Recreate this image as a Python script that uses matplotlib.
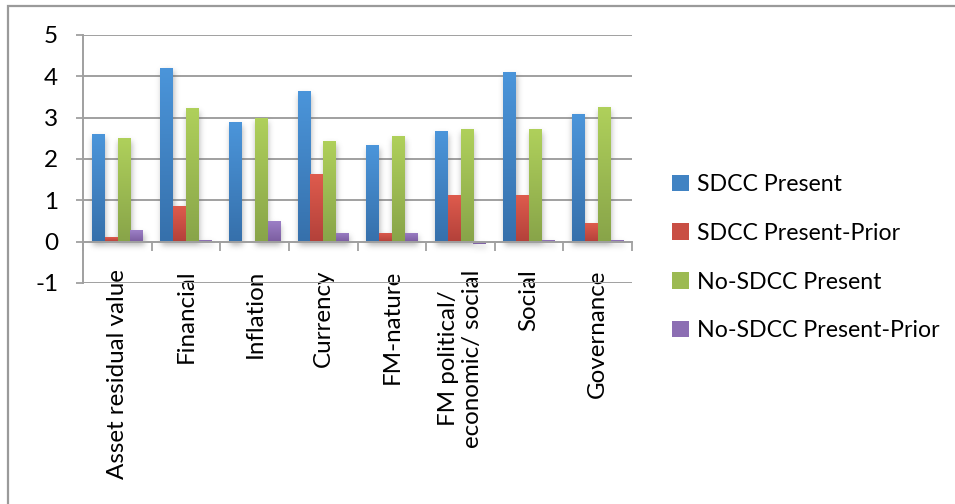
import numpy as np
import matplotlib
matplotlib.use("Agg")
import matplotlib.pyplot as plt
from matplotlib.colors import LinearSegmentedColormap, to_rgb
from matplotlib.patches import Patch, Rectangle

plt.rcParams['font.family'] = ['Lato', 'DejaVu Sans']
plt.rcParams['axes.unicode_minus'] = False

categories = ['Asset residual value', 'Financial', 'Inflation', 'Currency',
              'FM-nature', 'FM political/\neconomic/ social', 'Social', 'Governance']
series_names = ['SDCC Present', 'SDCC Present-Prior', 'No-SDCC Present', 'No-SDCC Present-Prior']
sdcc_present = [2.61, 4.21, 2.89, 3.64, 2.33, 2.67, 4.10, 3.10]
sdcc_prior = [0.12, 0.87, 0.0, 1.63, 0.22, 1.12, 1.12, 0.44]
nosdcc_present = [2.50, 3.24, 3.00, 2.43, 2.55, 2.72, 2.72, 3.25]
nosdcc_prior = [0.27, 0.05, 0.49, 0.22, 0.22, -0.05, 0.05, 0.05]
y_ticks = [-1, 0, 1, 2, 3, 4, 5]

# (top, bottom) colours of the vertical gradient for each series
grad_colors = [('#4b95da', '#3670ab'),
               ('#de5b4d', '#b3413a'),
               ('#afd05b', '#88a449'),
               ('#9c7fc6', '#7b5d9f')]

all_series = [sdcc_present, sdcc_prior, nosdcc_present, nosdcc_prior]

fig = plt.figure(figsize=(9.55, 5.04), dpi=100)
ax = fig.add_axes([0.0872, 0.4385, 0.5746, 0.4921])

# axis line at zero; set before ticks since it resets them
grid_c = '#a0a0a0'
for s in ['top', 'right']:
    ax.spines[s].set_visible(False)
ax.spines['bottom'].set_position(('data', 0))
ax.spines['bottom'].set_color(grid_c)
ax.spines['bottom'].set_linewidth(1.4)
ax.spines['left'].set_color(grid_c)
ax.spines['left'].set_linewidth(1.4)

n = len(categories)
idx = np.arange(n)
width = 0.1875
xlim = (-0.5, n - 0.5)
ylim = (-1, 5)

# soft drop shadow under the bars
nx, ny = 560, 250
gx = np.linspace(xlim[0], xlim[1], nx)
gy = np.linspace(ylim[0], ylim[1], ny)
mask = np.zeros((ny, nx))
px_y = (ylim[1] - ylim[0]) / 248.0
px_x = (xlim[1] - xlim[0]) / 549.0
for i, vals in enumerate(all_series):
    for c, v in zip(idx, vals):
        x0 = c + (i - 2) * width + 1 * px_x
        x1 = x0 + width
        lo, hi = min(0, v) - 4 * px_y, max(0, v) - 4 * px_y
        mask[np.ix_((gy >= lo) & (gy <= hi), (gx >= x0) & (gx <= x1))] = 1.0
k = np.exp(-0.5 * (np.arange(-9, 10) / 3.0) ** 2)
k /= k.sum()
blur = np.apply_along_axis(lambda r: np.convolve(r, k, mode='same'), 1, mask)
blur = np.apply_along_axis(lambda r: np.convolve(r, k, mode='same'), 0, blur)
shadow = np.zeros((ny, nx, 4))
shadow[..., :3] = 0.35
shadow[..., 3] = blur * 0.45
ax.imshow(shadow, extent=[xlim[0], xlim[1], ylim[0], ylim[1]], origin='lower',
          aspect='auto', zorder=1.5, interpolation='bilinear')

handles = []
for i, (vals, name, (ctop, cbot)) in enumerate(zip(all_series, series_names, grad_colors)):
    pos = idx + (i - 1.5) * width
    mid = tuple((np.array(to_rgb(ctop)) + np.array(to_rgb(cbot))) / 2)
    bars = ax.bar(pos, vals, width, color=mid, zorder=2, linewidth=0)
    cmap = LinearSegmentedColormap.from_list(name, [cbot, ctop])
    grad = np.linspace(0, 1, 64).reshape(-1, 1)
    for b in bars:
        x0, y0 = b.get_x(), b.get_y()
        h = b.get_height()
        if h == 0:
            continue
        im = ax.imshow(grad, extent=[x0, x0 + width, min(y0, y0 + h), max(y0, y0 + h)],
                       origin='lower', cmap=cmap, aspect='auto', zorder=2.1,
                       interpolation='bilinear')
        im.set_clip_path(b)
    handles.append(Patch(facecolor=mid, edgecolor='none', label=name))

ax.set_xlim(*xlim)
ax.set_ylim(*ylim)

ax.set_yticks(y_ticks)
ax.yaxis.grid(True, color=grid_c, linewidth=1.4, zorder=0)
ax.set_axisbelow(True)
ax.tick_params(axis='y', direction='out', length=5, width=1.3, color=grid_c,
               pad=13, labelsize=17.5, labelcolor='black')

ax.set_xticks(idx)
ax.set_xticklabels(categories, rotation=90, fontsize=17.4, va='top', ha='center')
ax.set_xticks(np.arange(-0.5, n, 1.0), minor=True)
ax.tick_params(axis='x', which='major', length=0, pad=20)
ax.tick_params(axis='x', which='minor', direction='out', length=6.5, width=1.3, color=grid_c)

fig.legend(handles=handles, loc='upper left', bbox_to_anchor=(0.704, 0.655),
           frameon=False, fontsize=16.7, handlelength=0.7, handleheight=0.7,
           handletextpad=0.35, labelspacing=1.2, borderpad=0, borderaxespad=0)

# chart frame
fig.patches.append(Rectangle((7.5 / 955, -0.1), 1.2, 1 - 6 / 504 + 0.1,
                             transform=fig.transFigure, fill=False,
                             edgecolor='#9a9a9a', linewidth=1.6))

fig.savefig('out.png', dpi=100)
